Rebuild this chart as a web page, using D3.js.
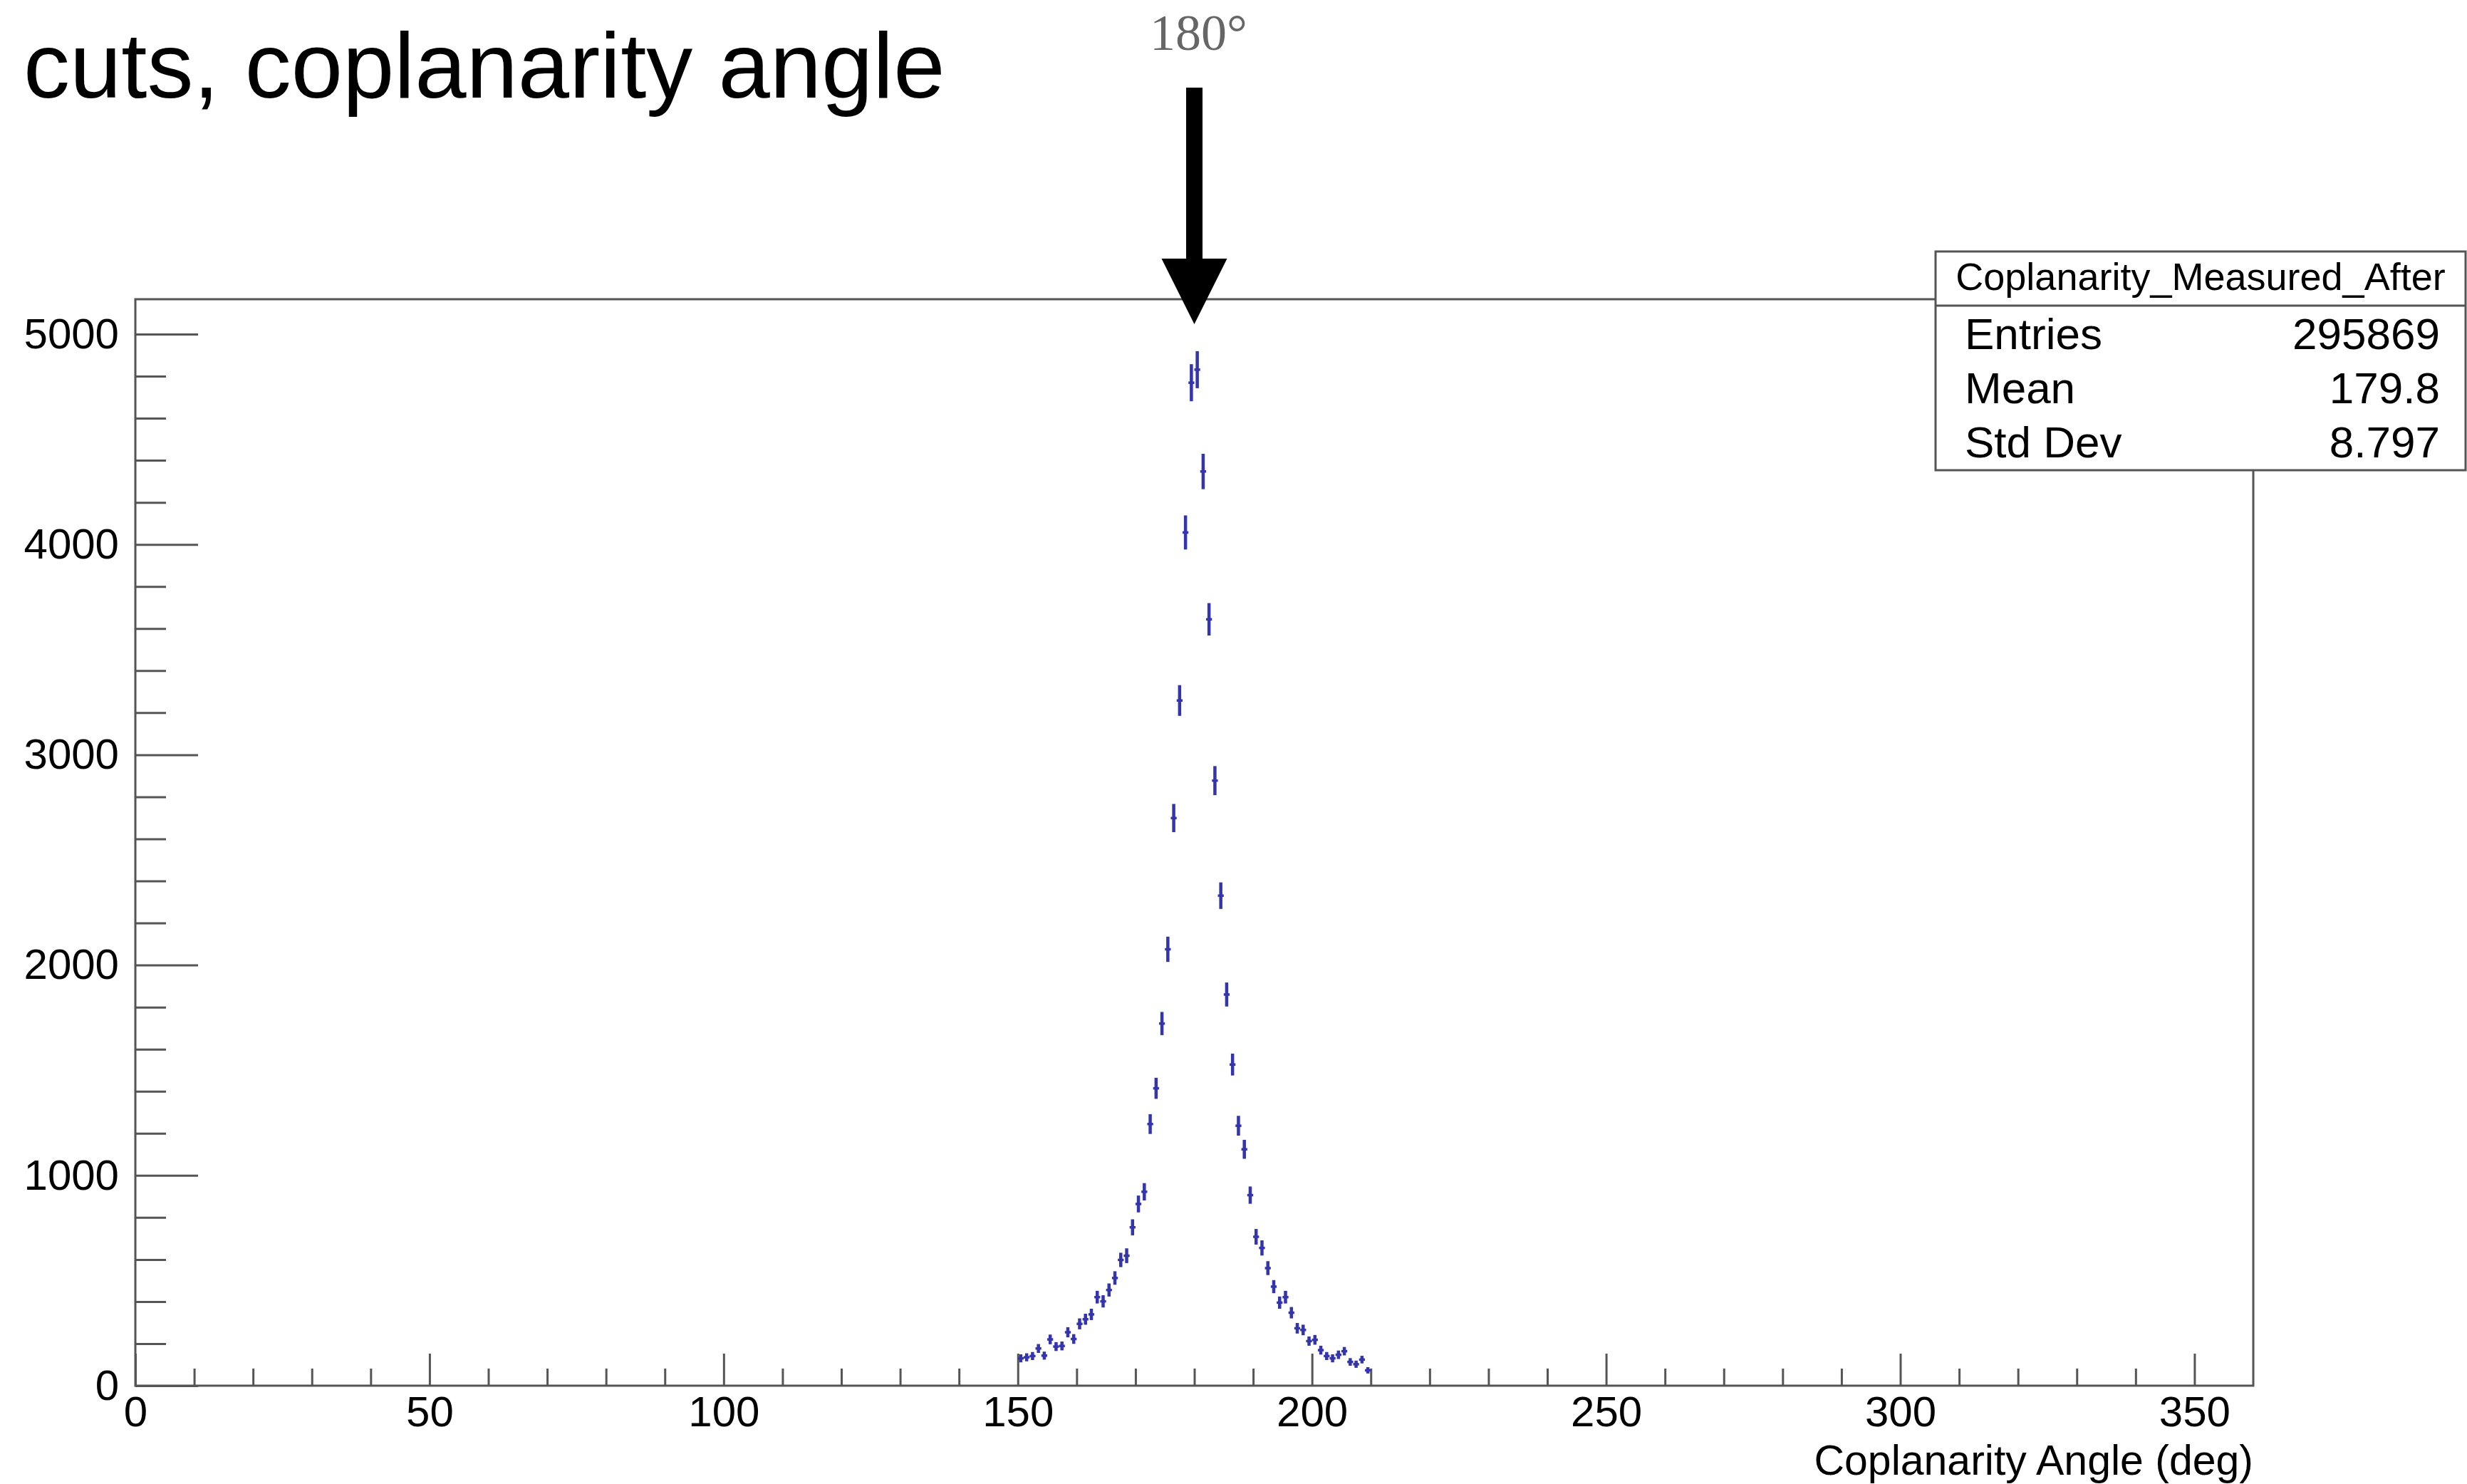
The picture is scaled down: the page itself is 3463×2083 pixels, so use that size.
<!DOCTYPE html>
<html>
<head>
<meta charset="utf-8">
<script src="https://cdn.jsdelivr.net/npm/d3@7"></script>
<style>
  html, body { margin: 0; padding: 0; background: #ffffff; }
  svg { display: block; }
</style>
</head>
<body>
<svg id="chart" width="3463" height="2083"></svg>
<script>
// Coplanarity angle histogram (1 degree bins), after cuts
const binCenters = [
  150.5, 151.5, 152.5, 153.5, 154.5, 155.5, 156.5, 157.5, 158.5, 159.5,
  160.5, 161.5, 162.5, 163.5, 164.5, 165.5, 166.5, 167.5, 168.5, 169.5,
  170.5, 171.5, 172.5, 173.5, 174.5, 175.5, 176.5, 177.5, 178.5, 179.5,
  180.5, 181.5, 182.5, 183.5, 184.5, 185.5, 186.5, 187.5, 188.5, 189.5,
  190.5, 191.5, 192.5, 193.5, 194.5, 195.5, 196.5, 197.5, 198.5, 199.5,
  200.5, 201.5, 202.5, 203.5, 204.5, 205.5, 206.5, 207.5, 208.5, 209.5
];
const binCounts = [
  130, 135, 141, 177, 143, 220, 186, 189, 254, 222,
  294, 316, 339, 421, 401, 455, 512, 598, 618, 753,
  864, 922, 1244, 1414, 1722, 2075, 2699, 3258, 4057, 4769,
  4831, 4347, 3644, 2877, 2330, 1860, 1527, 1236, 1124, 906,
  708, 655, 559, 471, 395, 421, 347, 273, 265, 212,
  218, 169, 141, 130, 147, 164, 113, 102, 124, 73
];
const binErrors = [
  14, 14, 14, 16, 14, 18, 16, 16, 19, 18,
  21, 21, 22, 25, 24, 26, 27, 29, 30, 33,
  35, 36, 42, 45, 50, 55, 62, 68, 76, 83,
  83, 79, 72, 64, 58, 52, 47, 42, 40, 36,
  32, 31, 28, 26, 24, 25, 22, 20, 20, 17,
  18, 16, 14, 14, 15, 15, 13, 12, 13, 10
];
const binWidth = 1;

const xDomain = [0, 360];
const yDomain = [0, 5166];
const xMajorTicks = [0, 50, 100, 150, 200, 250, 300, 350];
const xMinorTicks = [10, 20, 30, 40, 60, 70, 80, 90, 110, 120, 130, 140, 160, 170, 180, 190,
                     210, 220, 230, 240, 260, 270, 280, 290, 310, 320, 330, 340];
const yMajorTicks = [0, 1000, 2000, 3000, 4000, 5000];
const yMinorTicks = [200, 400, 600, 800, 1200, 1400, 1600, 1800, 2200, 2400, 2600, 2800,
                     3200, 3400, 3600, 3800, 4200, 4400, 4600, 4800];

const pageTitle = "cuts, coplanarity angle";
const xAxisTitle = "Coplanarity Angle (deg)";
const markerAngle = 180;
const markerLabel = "180\u00B0";
const statsName = "Coplanarity_Measured_After";
const statsRows = [["Entries", "295869"], ["Mean", "179.8"], ["Std Dev", "8.797"]];

// ---- layout ----
const frame = { left: 190, right: 3163, top: 420, bottom: 1945 };
const axisColor = "#555555";
const markColor = "#3434ac";
const sans = "'Liberation Sans', Arial, Helvetica, sans-serif";
const serif = "'Liberation Serif', 'Times New Roman', serif";

const svg = d3.select("#chart");

const x = d3.scaleLinear().domain(xDomain).range([frame.left, frame.right]);
const y = d3.scaleLinear().domain(yDomain).range([frame.bottom, frame.top]);

// frame
svg.append("rect")
  .attr("x", frame.left).attr("y", frame.top)
  .attr("width", frame.right - frame.left).attr("height", frame.bottom - frame.top)
  .attr("fill", "none").attr("stroke", axisColor).attr("stroke-width", 3);

function styleAxis(g) {
  g.select(".domain").remove();
  g.selectAll(".tick line").attr("stroke", axisColor).attr("stroke-width", 3);
  g.selectAll(".tick text")
    .attr("fill", "#000").attr("font-family", sans).attr("font-size", 60);
}

// x axis: ticks point inward (upwards)
svg.append("g")
  .attr("transform", `translate(0,${frame.bottom})`)
  .call(d3.axisBottom(x).tickValues(xMajorTicks).tickFormat(d3.format("d"))
    .tickSize(-45).tickSizeOuter(0).tickPadding(14))
  .call(styleAxis);
svg.append("g")
  .attr("transform", `translate(0,${frame.bottom})`)
  .call(d3.axisBottom(x).tickValues(xMinorTicks).tickFormat("")
    .tickSize(-24).tickSizeOuter(0))
  .call(styleAxis);

// y axis: ticks point inward (to the right)
svg.append("g")
  .attr("transform", `translate(${frame.left},0)`)
  .call(d3.axisLeft(y).tickValues(yMajorTicks).tickFormat(d3.format("d"))
    .tickSize(-88).tickSizeOuter(0).tickPadding(23))
  .call(styleAxis);
svg.append("g")
  .attr("transform", `translate(${frame.left},0)`)
  .call(d3.axisLeft(y).tickValues(yMinorTicks).tickFormat("")
    .tickSize(-43).tickSizeOuter(0))
  .call(styleAxis);

// x axis title, right aligned to the frame
svg.append("text")
  .attr("x", frame.right).attr("y", 2070)
  .attr("text-anchor", "end")
  .attr("font-family", sans).attr("font-size", 59).attr("fill", "#000")
  .text(xAxisTitle);

// histogram points with error bars
const bins = binCenters.map((c, i) => ({ c, v: binCounts[i], e: binErrors[i] }));
const marks = svg.append("g")
  .attr("stroke", markColor).attr("stroke-width", 4.5).attr("stroke-linecap", "butt");
marks.selectAll("line.ev").data(bins).join("line")
  .attr("class", "ev")
  .attr("x1", d => x(d.c)).attr("x2", d => x(d.c))
  .attr("y1", d => y(d.v - d.e) + 1.5).attr("y2", d => y(d.v + d.e) - 1.5);
marks.selectAll("line.eh").data(bins).join("line")
  .attr("class", "eh")
  .attr("stroke-width", 3.5)
  .attr("x1", d => x(d.c - binWidth / 2)).attr("x2", d => x(d.c + binWidth / 2))
  .attr("y1", d => y(d.v)).attr("y2", d => y(d.v));

// statistics box
const box = { left: 2717, right: 3461, top: 353, divider: 429, bottom: 660 };
const stats = svg.append("g");
stats.append("rect")
  .attr("x", box.left).attr("y", box.top)
  .attr("width", box.right - box.left).attr("height", box.bottom - box.top)
  .attr("fill", "#ffffff").attr("stroke", axisColor).attr("stroke-width", 3);
stats.append("line")
  .attr("x1", box.left).attr("x2", box.right)
  .attr("y1", box.divider).attr("y2", box.divider)
  .attr("stroke", axisColor).attr("stroke-width", 3);
stats.append("text")
  .attr("x", (box.left + box.right) / 2).attr("y", 407)
  .attr("text-anchor", "middle")
  .attr("font-family", sans).attr("font-size", 54).attr("fill", "#000")
  .text(statsName);
const rowBaselines = [490, 566, 642];
statsRows.forEach(([label, value], i) => {
  stats.append("text")
    .attr("x", 2758).attr("y", rowBaselines[i])
    .attr("font-family", sans).attr("font-size", 62).attr("fill", "#000")
    .text(label);
  stats.append("text")
    .attr("x", 3425).attr("y", rowBaselines[i])
    .attr("text-anchor", "end")
    .attr("font-family", sans).attr("font-size", 62).attr("fill", "#000")
    .text(value);
});

// page title
svg.append("text")
  .attr("x", 33).attr("y", 137)
  .attr("font-family", sans).attr("font-size", 130).attr("fill", "#000")
  .text(pageTitle);

// arrow marking the back-to-back angle
const ax = x(markerAngle);
svg.append("path")
  .attr("d", `M${ax - 11.5},123 L${ax + 11.5},123 L${ax + 11.5},363 L${ax + 46},363
              L${ax},455 L${ax - 46},363 L${ax - 11.5},363 Z`)
  .attr("fill", "#000");
svg.append("text")
  .attr("x", ax + 6).attr("y", 70)
  .attr("text-anchor", "middle")
  .attr("font-family", serif).attr("font-size", 72).attr("fill", "#666666")
  .text(markerLabel);
</script>
</body>
</html>
